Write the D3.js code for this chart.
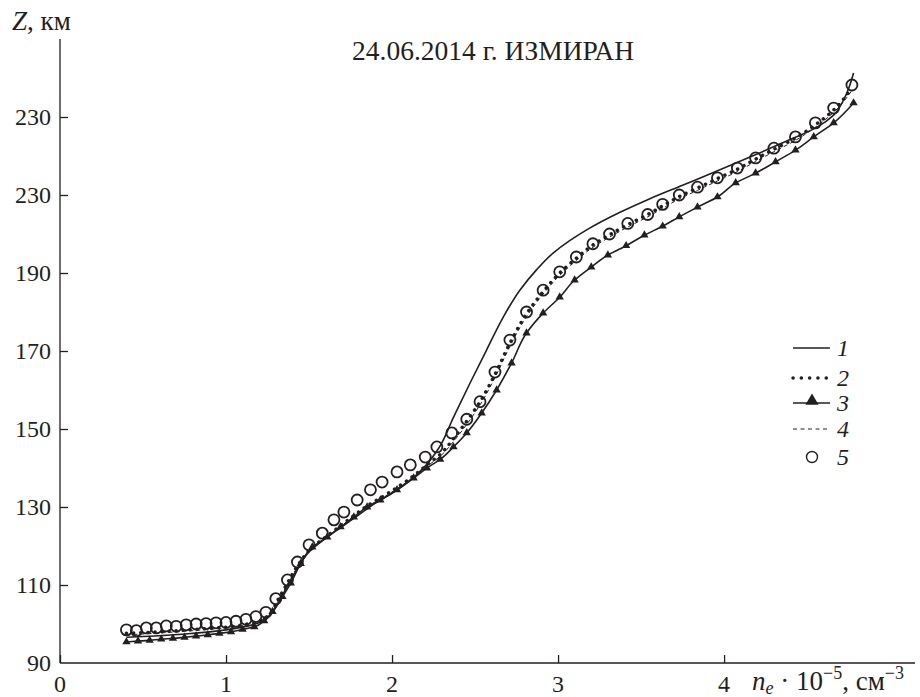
<!DOCTYPE html>
<html>
<head>
<meta charset="utf-8">
<script src="https://cdn.jsdelivr.net/npm/d3@7"></script>
<style>
body { margin: 0; background: #fff; }
text { font-family: "Liberation Serif", "DejaVu Serif", serif; fill: #231f20; }
</style>
</head>
<body>
<div id="chart"></div>
<script>
// ne*1e-5 (cm^-3) vs Z (km)
var curve1 = [[0.40,96.6],[0.60,97.0],[0.80,97.6],[1.00,98.5],[1.10,99.2],[1.20,100.3],[1.26,102],[1.31,105],[1.36,109],[1.42,113.5],[1.50,118.5],[1.60,122],[1.70,125],[1.80,128],[1.90,131],[2.00,133.5],[2.10,136.5],[2.20,140.5],[2.28,145],[2.37,153],[2.47,161.8],[2.57,170.3],[2.67,178.7],[2.77,185.6],[2.87,190.8],[2.97,195.1],[3.07,198.3],[3.17,201],[3.37,205.5],[3.55,209],[3.75,212.5],[3.95,216],[4.16,219.8],[4.36,223.5],[4.56,227.4],[4.66,230.5],[4.72,234.4],[4.78,241.3]]

var curve2 = [[0.40,97.6],[0.60,98.0],[0.80,98.6],[1.00,99.2],[1.15,100.2],[1.25,102],[1.31,106],[1.37,110.5],[1.44,115.5],[1.52,119.7],[1.61,122.6],[1.69,125.2],[1.77,127.8],[1.85,130.3],[1.93,132.3],[2.03,135],[2.13,138],[2.21,140.8],[2.29,143.5],[2.37,147.5],[2.45,152],[2.53,157],[2.62,164],[2.71,172],[2.81,179.5],[2.91,185.2],[3.01,190],[3.11,193.8],[3.21,197.2],[3.31,199.8],[3.42,202.4],[3.54,205],[3.63,207.2],[3.73,209.6],[3.84,211.8],[3.96,214.2],[4.08,216.6],[4.19,219.2],[4.30,221.7],[4.43,224.6],[4.55,228],[4.66,231.8],[4.77,237.5]]

var curve3 = [[0.40,95.4],[0.47,95.6],[0.54,95.8],[0.61,96.1],[0.68,96.3],[0.75,96.6],[0.82,96.9],[0.89,97.2],[0.96,97.6],[1.03,98],[1.10,98.6],[1.17,99.3],[1.23,100.8],[1.28,103.2],[1.34,107],[1.39,110.5],[1.45,115.5],[1.52,119.7],[1.61,122.3],[1.69,124.9],[1.77,127.4],[1.85,130],[1.93,131.8],[2.03,134.4],[2.13,137.4],[2.21,140],[2.29,142.2],[2.37,145.4],[2.45,149],[2.54,154.1],[2.63,160],[2.72,166.9],[2.81,174.6],[2.91,179.7],[3.01,183.8],[3.10,188.2],[3.20,191.5],[3.30,194.6],[3.41,197],[3.52,199.7],[3.63,202],[3.73,204.4],[3.84,206.9],[3.96,209.5],[4.07,213.1],[4.19,215.6],[4.31,218.5],[4.43,221.5],[4.54,224.9],[4.66,228.5],[4.78,233.6]]

var curve4 = [[0.40,97.2],[0.60,97.7],[0.80,98.3],[1.00,99.0],[1.15,100.0],[1.25,101.8],[1.31,105.6],[1.37,110.2],[1.44,115.2],[1.52,119.5],[1.61,122.4],[1.69,125],[1.77,127.6],[1.85,130.1],[1.93,132],[2.03,134.7],[2.13,137.7],[2.21,140.4],[2.29,143],[2.37,146.8],[2.45,151.2],[2.53,156.2],[2.62,163.2],[2.71,171.2],[2.81,178.8],[2.91,184.6],[3.01,189.4],[3.11,193.2],[3.21,196.6],[3.31,199.2],[3.42,201.8],[3.54,204.4],[3.63,206.6],[3.73,209],[3.84,211.2],[3.96,213.6],[4.08,216],[4.19,218.6],[4.30,221.1],[4.43,224],[4.55,227.4],[4.66,231.2],[4.77,236.8]]

var points5 = [[0.40,98.5],[0.46,98.3],[0.52,99],[0.58,99],[0.64,99.5],[0.70,99.4],[0.76,99.8],[0.82,100],[0.88,100.1],[0.94,100.3],[1.00,100.4],[1.06,100.7],[1.12,101.2],[1.18,101.9],[1.24,103],[1.30,106.5],[1.37,111.3],[1.43,115.9],[1.50,120.3],[1.58,123.3],[1.65,126.7],[1.71,128.7],[1.79,131.8],[1.87,134.4],[1.94,136.4],[2.03,139],[2.11,140.8],[2.20,142.8],[2.27,145.4],[2.36,149],[2.45,152.5],[2.53,157],[2.62,164.6],[2.71,172.8],[2.81,180],[2.91,185.6],[3.01,190.3],[3.11,194.1],[3.21,197.5],[3.31,200],[3.42,202.7],[3.54,205],[3.63,207.6],[3.73,210],[3.84,212],[3.96,214.4],[4.08,216.9],[4.19,219.5],[4.30,222],[4.43,224.9],[4.55,228.5],[4.66,232.3],[4.77,238.2]]

var xTicks = [0, 1, 2, 3, 4]
var yTicks = [90, 110, 130, 150, 170, 190, 210, 230]
var yTickLabels = ["90", "110", "130", "150", "170", "190", "230", "230"]
var legendLabels = ["1", "2", "3", "4", "5"]
var title = "24.06.2014 г. ИЗМИРАН"

W = 920
H = 697
fs = 24
bigfs = 27

var svg = d3.select("#chart").append("svg")
    .attr("width", W)
    .attr("height", H)

var x = d3.scaleLinear().domain([0, 5.15]).range([60, 915])
var y = d3.scaleLinear().domain([90, 250]).range([663, 39])

// axes
svg.append("g")
    .attr("transform", "translate(0," + y(90) + ")")
    .call(d3.axisTop(x).tickValues(xTicks).tickSize(8).tickFormat(""))
    .call(g => g.select(".domain").attr("d", "M" + x(0) + ",0H" + x(5.15)))
    .selectAll("line,path").attr("stroke", "#231f20").attr("stroke-width", 1.3)

svg.append("g")
    .attr("transform", "translate(" + x(0) + ",0)")
    .call(d3.axisRight(y).tickValues(yTicks.slice(1)).tickSize(8).tickFormat(""))
    .call(g => g.select(".domain").attr("d", "M0," + y(90) + "V" + y(250)))
    .selectAll("line,path").attr("stroke", "#231f20").attr("stroke-width", 1.3)

svg.selectAll(".xlab").data(xTicks)
    .enter().append("text")
    .attr("class", "xlab")
    .attr("x", d => x(d))
    .attr("y", 692)
    .attr("text-anchor", "middle")
    .style("font-size", fs + "px")
    .text(d => d)

svg.selectAll(".ylab").data(yTicks)
    .enter().append("text")
    .attr("class", "ylab")
    .attr("x", 51)
    .attr("y", d => y(d) + 8)
    .attr("text-anchor", "end")
    .style("font-size", fs + "px")
    .text((d, i) => yTickLabels[i])

// axis titles
var zt = svg.append("text").attr("x", 12).attr("y", 30).style("font-size", bigfs + "px")
zt.append("tspan").style("font-style", "italic").text("Z")
zt.append("tspan").text(", км")

var nt = svg.append("text").attr("x", 752).attr("y", 690).style("font-size", bigfs + "px")
nt.append("tspan").style("font-style", "italic").text("n")
nt.append("tspan").style("font-style", "italic").style("font-size", "18px").attr("dy", 4).text("e")
nt.append("tspan").attr("dy", -4).text(" · 10")
nt.append("tspan").style("font-size", "18px").attr("dy", -11).text("−5")
nt.append("tspan").attr("dy", 11).text(", см")
nt.append("tspan").style("font-size", "18px").attr("dy", -11).text("−3")

svg.append("text")
    .attr("x", 493)
    .attr("y", 60)
    .attr("text-anchor", "middle")
    .style("font-size", "27.5px")
    .text(title)

var line = d3.line().x(d => x(d[0])).y(d => y(d[1])).curve(d3.curveMonotoneY)

svg.append("path").datum(curve1).attr("d", line)
    .attr("fill", "none").attr("stroke", "#231f20").attr("stroke-width", 1.6)

svg.append("path").datum(curve4).attr("d", line)
    .attr("fill", "none").attr("stroke", "#231f20").attr("stroke-width", 1)
    .attr("stroke-dasharray", "4,3")

svg.append("path").datum(curve3).attr("d", line)
    .attr("fill", "none").attr("stroke", "#231f20").attr("stroke-width", 1.6)

svg.selectAll(".tri").data(curve3)
    .enter().append("path")
    .attr("class", "tri")
    .attr("d", d3.symbol().type(d3.symbolTriangle).size(30))
    .attr("transform", d => "translate(" + x(d[0]) + "," + y(d[1]) + ")")
    .attr("fill", "#231f20")

svg.append("path").datum(curve2).attr("d", line)
    .attr("fill", "none").attr("stroke", "#231f20").attr("stroke-width", 3.5)
    .attr("stroke-linecap", "round")
    .attr("stroke-dasharray", "0.1,7")

svg.selectAll(".circ").data(points5)
    .enter().append("circle")
    .attr("class", "circ")
    .attr("cx", d => x(d[0]))
    .attr("cy", d => y(d[1]))
    .attr("r", 5.5)
    .attr("fill", "none")
    .attr("stroke", "#231f20")
    .attr("stroke-width", 1.8)

// legend
lx = 793
ly = [348, 378, 403, 429, 457]

var leg = svg.append("g")
legendLabels.forEach(function(lab, i) {
    if (i < 4) {
        var l = leg.append("line").attr("x1", lx).attr("x2", lx + 37)
            .attr("y1", ly[i]).attr("y2", ly[i])
            .attr("stroke", "#231f20")
        if (i == 0) { l.attr("stroke-width", 1.4) }
        if (i == 1) { l.attr("stroke-width", 3.5).attr("stroke-linecap", "round").attr("stroke-dasharray", "0.1,8.2") }
        if (i == 2) { l.attr("stroke-width", 1.4) }
        if (i == 3) { l.attr("stroke-width", 1).attr("stroke-dasharray", "4,3.5") }
    }
    if (i == 2) {
        leg.append("path").attr("d", d3.symbol().type(d3.symbolTriangle).size(75))
            .attr("transform", "translate(" + (lx + 19) + "," + (ly[i] - 2) + ")")
            .attr("fill", "#231f20")
    }
    if (i == 4) {
        leg.append("circle").attr("cx", lx + 19).attr("cy", ly[i]).attr("r", 5.5)
            .attr("fill", "none").attr("stroke", "#231f20").attr("stroke-width", 1.4)
    }
    leg.append("text")
        .attr("x", lx + 44)
        .attr("y", ly[i] + 8)
        .style("font-size", fs + "px")
        .style("font-style", "italic")
        .text(lab)
})
</script>
</body>
</html>
